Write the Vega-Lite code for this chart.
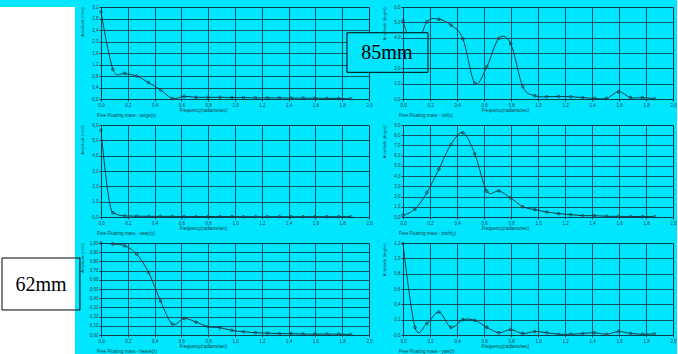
{
  "$schema": "https://vega.github.io/schema/vega-lite/v6.json",
  "padding": {"top": 3, "left": 0, "right": 0, "bottom": 0},
  "background": "#00e6ff",
  "bounds": "flush",
  "spacing": 26,
  "hconcat": [
    {
      "width": 75,
      "height": 354,
      "view": {"fill": "white", "stroke": null},
      "data": {"values": [{"k": 1}]},
      "mark": {"type": "rect", "fill": "white"},
      "encoding": {}
    },
    {
      "bounds": "flush",
      "columns": 2,
      "spacing": {"row": 26, "column": 34},
      "concat": [
        {
          "width": 268, "height": 92,
          "title": {"text": "Free Floating mass - surge(x)", "orient": "bottom", "anchor": "start", "frame": "group", "offset": 1, "dx": -4},
          "data": {"values": [
            {"f": 0, "v": 3.03}, {"f": 0.089, "v": 1.03}, {"f": 0.177, "v": 0.89}, {"f": 0.266, "v": 0.8}, {"f": 0.355, "v": 0.57}, {"f": 0.444, "v": 0.32}, {"f": 0.532, "v": 0.02}, {"f": 0.621, "v": 0.09}, {"f": 0.71, "v": 0.06}, {"f": 0.798, "v": 0.06}, {"f": 0.887, "v": 0.06}, {"f": 0.976, "v": 0.05}, {"f": 1.064, "v": 0.05}, {"f": 1.153, "v": 0.04}, {"f": 1.242, "v": 0.04}, {"f": 1.331, "v": 0.04}, {"f": 1.419, "v": 0.03}, {"f": 1.508, "v": 0.03}, {"f": 1.597, "v": 0.03}, {"f": 1.686, "v": 0.02}, {"f": 1.774, "v": 0.02}, {"f": 1.863, "v": 0.01}
          ]},
          "encoding": {
            "x": {"field": "f", "type": "quantitative", "scale": {"domain": [0, 2], "nice": false}, "axis": {"values": [0, 0.2, 0.4, 0.6, 0.8, 1, 1.2, 1.4, 1.6, 1.8, 2], "format": ".1f", "title": "Frequency(radians/sec)", "titleX": 102}},
            "y": {"field": "v", "type": "quantitative", "scale": {"domain": [0, 3.2], "nice": false}, "axis": {"values": [0, 0.4, 0.8, 1.2, 1.6, 2, 2.4, 2.8, 3.2], "format": ".1f", "title": "Amplitude (m/m)"}}
          },
          "layer": [
            {"mark": {"type": "line", "interpolate": "cardinal", "clip": true}},
            {"mark": {"type": "point", "shape": "circle", "filled": false}}
          ]
        },
        {
          "width": 270, "height": 92,
          "title": {"text": "Free Floating mass - roll(x)", "orient": "bottom", "anchor": "start", "frame": "group", "offset": 1, "dx": -4},
          "layer": [
            {
              "data": {"values": [
                {"f": 0, "v": 5.1}, {"f": 0.089, "v": 3.25}, {"f": 0.177, "v": 5.03}, {"f": 0.266, "v": 5.2}, {"f": 0.355, "v": 4.82}, {"f": 0.444, "v": 3.92}, {"f": 0.532, "v": 1.03}, {"f": 0.621, "v": 2.1}, {"f": 0.71, "v": 3.96}, {"f": 0.798, "v": 3.6}, {"f": 0.887, "v": 0.81}, {"f": 0.976, "v": 0.21}, {"f": 1.064, "v": 0.15}, {"f": 1.153, "v": 0.17}, {"f": 1.242, "v": 0.15}, {"f": 1.331, "v": 0.09}, {"f": 1.419, "v": 0.04}, {"f": 1.508, "v": 0.04}, {"f": 1.597, "v": 0.47}, {"f": 1.686, "v": 0.09}, {"f": 1.774, "v": 0.09}, {"f": 1.863, "v": 0.02}
              ]},
              "encoding": {
                "x": {"field": "f", "type": "quantitative", "scale": {"domain": [0, 2], "nice": false}, "axis": {"values": [0, 0.2, 0.4, 0.6, 0.8, 1, 1.2, 1.4, 1.6, 1.8, 2], "format": ".1f", "title": "Frequency(radians/sec)", "titleX": 102}},
                "y": {"field": "v", "type": "quantitative", "scale": {"domain": [0, 6], "nice": false}, "axis": {"values": [0, 1, 2, 3, 4, 5, 6], "format": ".1f", "title": "Amplitude (deg/m)", "zindex": 1}}
              },
              "layer": [
                {"mark": {"type": "line", "interpolate": "cardinal", "clip": true}},
                {"mark": {"type": "point", "shape": "circle", "filled": false}}
              ]
            },
            {
              "data": {"values": [{"label": "85mm"}]},
              "encoding": {
                "x": {"datum": -0.415, "type": "quantitative", "scale": {"domain": [0, 2], "nice": false}, "axis": {"values": [0, 0.2, 0.4, 0.6, 0.8, 1, 1.2, 1.4, 1.6, 1.8, 2], "format": ".1f", "title": "Frequency(radians/sec)", "titleX": 102}},
                "x2": {"datum": 0.185},
                "y": {"datum": 4.32, "type": "quantitative", "scale": {"domain": [0, 6], "nice": false}, "axis": {"values": [0, 1, 2, 3, 4, 5, 6], "format": ".1f", "title": "Amplitude (deg/m)", "zindex": 1}},
                "y2": {"datum": 1.74}
              },
              "mark": {"type": "rect", "fill": "#00e6ff", "stroke": "black", "strokeWidth": 1, "clip": false}
            },
            {
              "data": {"values": [{"label": "85mm"}]},
              "mark": {"type": "text", "font": "Liberation Serif", "fontSize": 20, "color": "black", "clip": false, "align": "center", "baseline": "middle"},
              "encoding": {
                "x": {"datum": -0.119, "type": "quantitative", "scale": {"domain": [0, 2], "nice": false}, "axis": {"values": [0, 0.2, 0.4, 0.6, 0.8, 1, 1.2, 1.4, 1.6, 1.8, 2], "format": ".1f", "title": "Frequency(radians/sec)", "titleX": 102}},
                "y": {"datum": 3.03, "type": "quantitative", "scale": {"domain": [0, 6], "nice": false}, "axis": {"values": [0, 1, 2, 3, 4, 5, 6], "format": ".1f", "title": "Amplitude (deg/m)", "zindex": 1}},
                "text": {"field": "label"}
              }
            }
          ]
        },
        {
          "width": 268, "height": 92,
          "title": {"text": "Free Floating mass - sway(y)", "orient": "bottom", "anchor": "start", "frame": "group", "offset": 1, "dx": -4},
          "data": {"values": [
            {"f": 0, "v": 5.65}, {"f": 0.089, "v": 0.28}, {"f": 0.177, "v": 0.07}, {"f": 0.266, "v": 0.05}, {"f": 0.355, "v": 0.04}, {"f": 0.444, "v": 0.04}, {"f": 0.532, "v": 0.04}, {"f": 0.621, "v": 0.03}, {"f": 0.71, "v": 0.03}, {"f": 0.798, "v": 0.03}, {"f": 0.887, "v": 0.03}, {"f": 0.976, "v": 0.03}, {"f": 1.064, "v": 0.02}, {"f": 1.153, "v": 0.02}, {"f": 1.242, "v": 0.02}, {"f": 1.331, "v": 0.02}, {"f": 1.419, "v": 0.02}, {"f": 1.508, "v": 0.02}, {"f": 1.597, "v": 0.02}, {"f": 1.686, "v": 0.02}, {"f": 1.774, "v": 0.02}, {"f": 1.863, "v": 0.02}
          ]},
          "encoding": {
            "x": {"field": "f", "type": "quantitative", "scale": {"domain": [0, 2], "nice": false}, "axis": {"values": [0, 0.2, 0.4, 0.6, 0.8, 1, 1.2, 1.4, 1.6, 1.8, 2], "format": ".1f", "title": "Frequency(radians/sec)", "titleX": 102}},
            "y": {"field": "v", "type": "quantitative", "scale": {"domain": [0, 6], "nice": false}, "axis": {"values": [0, 1, 2, 3, 4, 5, 6], "format": ".1f", "title": "Amplitude (m/m)"}}
          },
          "layer": [
            {"mark": {"type": "line", "interpolate": "monotone", "clip": true}},
            {"mark": {"type": "point", "shape": "circle", "filled": false}}
          ]
        },
        {
          "width": 270, "height": 92,
          "title": {"text": "Free Floating mass - pitch(y)", "orient": "bottom", "anchor": "start", "frame": "group", "offset": 1, "dx": -4},
          "data": {"values": [
            {"f": 0, "v": 0.16}, {"f": 0.089, "v": 0.78}, {"f": 0.177, "v": 2.39}, {"f": 0.266, "v": 4.7}, {"f": 0.355, "v": 7.09}, {"f": 0.444, "v": 8.24}, {"f": 0.532, "v": 6.18}, {"f": 0.621, "v": 2.52}, {"f": 0.71, "v": 2.55}, {"f": 0.798, "v": 1.86}, {"f": 0.887, "v": 1.01}, {"f": 0.976, "v": 0.72}, {"f": 1.064, "v": 0.49}, {"f": 1.153, "v": 0.33}, {"f": 1.242, "v": 0.23}, {"f": 1.331, "v": 0.13}, {"f": 1.419, "v": 0.13}, {"f": 1.508, "v": 0.07}, {"f": 1.597, "v": 0.06}, {"f": 1.686, "v": 0.05}, {"f": 1.774, "v": 0.05}, {"f": 1.863, "v": 0.04}
          ]},
          "encoding": {
            "x": {"field": "f", "type": "quantitative", "scale": {"domain": [0, 2], "nice": false}, "axis": {"values": [0, 0.2, 0.4, 0.6, 0.8, 1, 1.2, 1.4, 1.6, 1.8, 2], "format": ".1f", "title": "Frequency(radians/sec)", "titleX": 102}},
            "y": {"field": "v", "type": "quantitative", "scale": {"domain": [0, 9], "nice": false}, "axis": {"values": [0, 1, 2, 3, 4, 5, 6, 7, 8, 9], "format": ".1f", "title": "Amplitude (deg/m)"}}
          },
          "layer": [
            {"mark": {"type": "line", "interpolate": "cardinal", "clip": true}},
            {"mark": {"type": "point", "shape": "circle", "filled": false}}
          ]
        },
        {
          "width": 268, "height": 92,
          "title": {"text": "Free Floating mass - heave(z)", "orient": "bottom", "anchor": "start", "frame": "group", "offset": 1, "dx": -4},
          "layer": [
            {
              "data": {"values": [
                {"f": 0, "v": 1.0}, {"f": 0.089, "v": 0.99}, {"f": 0.177, "v": 0.97}, {"f": 0.266, "v": 0.88}, {"f": 0.355, "v": 0.68}, {"f": 0.444, "v": 0.37}, {"f": 0.532, "v": 0.12}, {"f": 0.621, "v": 0.18}, {"f": 0.71, "v": 0.14}, {"f": 0.798, "v": 0.09}, {"f": 0.887, "v": 0.08}, {"f": 0.976, "v": 0.05}, {"f": 1.064, "v": 0.035}, {"f": 1.153, "v": 0.025}, {"f": 1.242, "v": 0.02}, {"f": 1.331, "v": 0.015}, {"f": 1.419, "v": 0.015}, {"f": 1.508, "v": 0.01}, {"f": 1.597, "v": 0.01}, {"f": 1.686, "v": 0.01}, {"f": 1.774, "v": 0.01}, {"f": 1.863, "v": 0.005}
              ]},
              "encoding": {
                "x": {"field": "f", "type": "quantitative", "scale": {"domain": [0, 2], "nice": false}, "axis": {"values": [0, 0.2, 0.4, 0.6, 0.8, 1, 1.2, 1.4, 1.6, 1.8, 2], "format": ".1f", "title": "Frequency(radians/sec)", "titleX": 102}},
                "y": {"field": "v", "type": "quantitative", "scale": {"domain": [0, 1], "nice": false}, "axis": {"values": [0, 0.1, 0.2, 0.3, 0.4, 0.5, 0.6, 0.7, 0.8, 0.9, 1], "format": ".2f", "title": "Amplitude (m/m)"}}
              },
              "layer": [
                {"mark": {"type": "line", "interpolate": "cardinal", "clip": true}},
                {"mark": {"type": "point", "shape": "circle", "filled": false}}
              ]
            },
            {
              "data": {"values": [{"label": "62mm"}]},
              "mark": {"type": "rect", "fillOpacity": 0, "stroke": "black", "strokeWidth": 1, "clip": false},
              "encoding": {
                "x": {"datum": -0.739, "type": "quantitative", "scale": {"domain": [0, 2], "nice": false}, "axis": {"values": [0, 0.2, 0.4, 0.6, 0.8, 1, 1.2, 1.4, 1.6, 1.8, 2], "format": ".1f", "title": "Frequency(radians/sec)", "titleX": 102}},
                "x2": {"datum": -0.157},
                "y": {"datum": 0.837, "type": "quantitative", "scale": {"domain": [0, 1], "nice": false}, "axis": {"values": [0, 0.1, 0.2, 0.3, 0.4, 0.5, 0.6, 0.7, 0.8, 0.9, 1], "format": ".2f", "title": "Amplitude (m/m)"}},
                "y2": {"datum": 0.272}
              }
            },
            {
              "data": {"values": [{"label": "62mm"}]},
              "mark": {"type": "text", "font": "Liberation Serif", "fontSize": 20, "color": "black", "clip": false, "align": "center", "baseline": "middle"},
              "encoding": {
                "x": {"datum": -0.448, "type": "quantitative", "scale": {"domain": [0, 2], "nice": false}, "axis": {"values": [0, 0.2, 0.4, 0.6, 0.8, 1, 1.2, 1.4, 1.6, 1.8, 2], "format": ".1f", "title": "Frequency(radians/sec)", "titleX": 102}},
                "y": {"datum": 0.543, "type": "quantitative", "scale": {"domain": [0, 1], "nice": false}, "axis": {"values": [0, 0.1, 0.2, 0.3, 0.4, 0.5, 0.6, 0.7, 0.8, 0.9, 1], "format": ".2f", "title": "Amplitude (m/m)"}},
                "text": {"field": "label"}
              }
            }
          ]
        },
        {
          "width": 270, "height": 92,
          "title": {"text": "Free Floating mass - yaw(z)", "orient": "bottom", "anchor": "start", "frame": "group", "offset": 1, "dx": -4},
          "data": {"values": [
            {"f": 0, "v": 1.19}, {"f": 0.089, "v": 0.1}, {"f": 0.177, "v": 0.15}, {"f": 0.266, "v": 0.3}, {"f": 0.355, "v": 0.1}, {"f": 0.444, "v": 0.2}, {"f": 0.532, "v": 0.19}, {"f": 0.621, "v": 0.1}, {"f": 0.71, "v": 0.03}, {"f": 0.798, "v": 0.07}, {"f": 0.887, "v": 0.02}, {"f": 0.976, "v": 0.045}, {"f": 1.064, "v": 0.03}, {"f": 1.153, "v": 0.01}, {"f": 1.242, "v": 0.01}, {"f": 1.331, "v": 0.02}, {"f": 1.419, "v": 0.03}, {"f": 1.508, "v": 0.01}, {"f": 1.597, "v": 0.045}, {"f": 1.686, "v": 0.02}, {"f": 1.774, "v": 0.01}, {"f": 1.863, "v": 0.015}
          ]},
          "encoding": {
            "x": {"field": "f", "type": "quantitative", "scale": {"domain": [0, 2], "nice": false}, "axis": {"values": [0, 0.2, 0.4, 0.6, 0.8, 1, 1.2, 1.4, 1.6, 1.8, 2], "format": ".1f", "title": "Frequency(radians/sec)", "titleX": 102}},
            "y": {"field": "v", "type": "quantitative", "scale": {"domain": [0, 1.2], "nice": false}, "axis": {"values": [0, 0.2, 0.4, 0.6, 0.8, 1, 1.2], "format": ".1f", "title": "Amplitude (deg/m)"}}
          },
          "layer": [
            {"mark": {"type": "line", "interpolate": "cardinal", "clip": true}},
            {"mark": {"type": "point", "shape": "circle", "filled": false}}
          ]
        }
      ]
    }
  ],
  "config": {
    "locale": {"number": {"decimal": ",", "thousands": ".", "grouping": [3], "currency": ["", " €"]}},
    "font": "Liberation Sans",
    "view": {"stroke": "#123c48", "strokeWidth": 1},
    "title": {"fontSize": 4.5, "fontWeight": "normal", "color": "#123c48", "font": "Liberation Sans"},
    "axis": {
      "domainColor": "#123c48", "gridColor": "#123c48", "gridOpacity": 0.85, "gridWidth": 1,
      "tickColor": "#123c48", "tickSize": 2, "labelColor": "#123c48", "titleColor": "#123c48",
      "labelFontSize": 4.5, "titleFontSize": 4.5, "titleFontWeight": "normal", "labelPadding": 1,
      "labelFont": "Liberation Sans", "titleFont": "Liberation Sans"
    },
    "axisY": {"minExtent": 14, "maxExtent": 14, "titlePadding": 3, "titleAnchor": "end", "titleFontSize": 4},
    "axisX": {"titlePadding": 1, "labelFlush": false},
    "line": {"color": "#123c48", "strokeWidth": 1},
    "point": {"color": "#123c48", "size": 7, "strokeWidth": 0.8, "opacity": 1}
  }
}
